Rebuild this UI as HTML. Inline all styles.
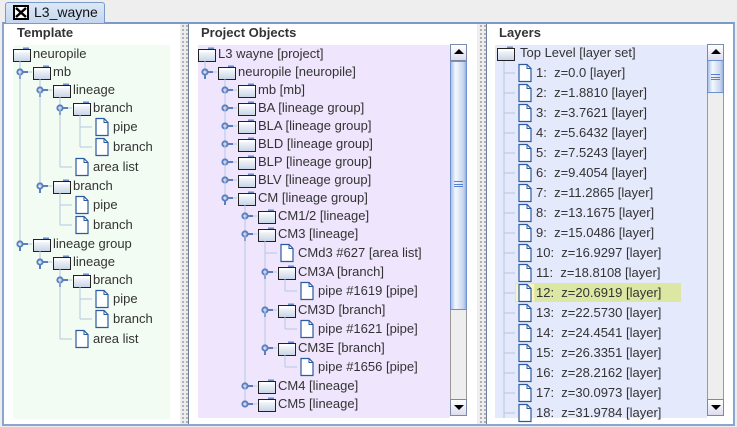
<!DOCTYPE html>
<html><head><meta charset="utf-8">
<style>
*{margin:0;padding:0;box-sizing:border-box}
body{width:737px;height:427px;background:#eeeeee;position:relative;overflow:hidden;font-family:"Liberation Sans",sans-serif;font-size:13px;color:#333}
.a{position:absolute}
.hdr{position:absolute;font-weight:bold;font-size:13px;color:#333}
.t{position:absolute;white-space:nowrap;line-height:16px}
.div{position:absolute;top:24px;height:400px;width:8px;background-color:#eee;background-image:radial-gradient(circle,#888 0.7px,transparent 1px);background-size:4px 4px;background-position:1px 0}
</style></head><body>
<div class="a" style="left:0;top:22px;width:737px;height:405px;background:#eee"></div>
<div class="a" style="left:2px;top:22px;width:733px;height:404px;border:2px solid #8aa6cf;border-top:2px solid #7a9acb"></div>
<div class="a" style="left:5px;top:2px;width:100px;height:21px;background:linear-gradient(#dde8f6,#c4d6ef);border:1px solid #7a9acb;border-bottom:none;border-radius:3px 3px 0 0"></div>
<div class="a" style="left:13px;top:5px;width:16px;height:15px;background:#000"></div>
<svg class="a" style="left:13px;top:5px" width="16" height="15"><rect x="2" y="2" width="12" height="11" fill="#fff"/><path d="M3 3L13 12M13 3L3 12" stroke="#000" stroke-width="2.5"/></svg>
<div class="t" style="left:34px;top:4px;font-size:14px;color:#111">L3_wayne</div>

<div class="a" style="left:4px;top:24px;width:176px;height:400px;background:#fff"></div>
<div class="a" style="left:189px;top:24px;width:288px;height:400px;background:#fff"></div>
<div class="a" style="left:487px;top:24px;width:246px;height:400px;background:#fff"></div>
<div class="div" style="left:180px"></div><div class="a" style="left:188px;top:24px;width:1px;height:400px;background:#6f7f99"></div>
<div class="div" style="left:478px"></div><div class="a" style="left:486px;top:24px;width:1px;height:400px;background:#6f7f99"></div>

<div class="hdr" style="left:17px;top:25px">Template</div>
<div class="hdr" style="left:201px;top:25px">Project Objects</div>
<div class="hdr" style="left:499px;top:25px">Layers</div>

<div class="a" style="left:13px;top:45px;width:157px;height:374px;background:#f2fcf2"></div>
<div class="a" style="left:198px;top:45px;width:252px;height:373px;background:#efe5fc"></div>
<div class="a" style="left:495px;top:45px;width:212px;height:373px;background:#e5e9fc"></div>

<div class="a" style="left:450px;top:44px;width:17px;height:372px;background:#eee;border:1px solid #999"></div>
<div class="a" style="left:450px;top:44px;width:17px;height:17px;background:linear-gradient(#fff,#dde);border:1px solid #7a8aa8"></div>
<svg class="a" style="left:453px;top:48px" width="12" height="8"><path d="M1 6L6 1L11 6Z" fill="#000"/></svg>
<div class="a" style="left:450px;top:399px;width:17px;height:17px;background:linear-gradient(#fff,#dde);border:1px solid #7a8aa8"></div>
<svg class="a" style="left:453px;top:404px" width="12" height="8"><path d="M1 1L6 6L11 1Z" fill="#000"/></svg>
<div class="a" style="left:450px;top:61px;width:17px;height:249px;background:linear-gradient(90deg,#a8c0e8,#f4f8fd 30%,#c8d8ee 80%,#9ab4e0);border:1px solid #6e8fd0"></div>
<div class="a" style="left:454px;top:181px;width:9px;height:6px;border-top:1px solid #5a7fd0;border-bottom:1px solid #5a7fd0"><div style="margin-top:1.5px;height:1px;background:#5a7fd0"></div></div>

<div class="a" style="left:707px;top:44px;width:17px;height:372px;background:#eee;border:1px solid #999"></div>
<div class="a" style="left:707px;top:44px;width:17px;height:17px;background:linear-gradient(#fff,#dde);border:1px solid #7a8aa8"></div>
<svg class="a" style="left:710px;top:48px" width="12" height="8"><path d="M1 6L6 1L11 6Z" fill="#000"/></svg>
<div class="a" style="left:707px;top:399px;width:17px;height:17px;background:linear-gradient(#fff,#dde);border:1px solid #7a8aa8"></div>
<svg class="a" style="left:710px;top:404px" width="12" height="8"><path d="M1 1L6 6L11 1Z" fill="#000"/></svg>
<div class="a" style="left:707px;top:60px;width:17px;height:33px;background:linear-gradient(90deg,#a8c0e8,#f4f8fd 30%,#c8d8ee 80%,#9ab4e0);border:1px solid #6e8fd0"></div>
<div class="a" style="left:711px;top:74px;width:9px;height:6px;border-top:1px solid #5a7fd0;border-bottom:1px solid #5a7fd0"><div style="margin-top:1.5px;height:1px;background:#5a7fd0"></div></div>

<div class="a" style="left:515px;top:283px;width:20px;height:19px;background:#f6f6c8;border:1px solid #e8e8a0"></div>
<div class="a" style="left:535px;top:283px;width:146px;height:19px;background:#dde7a4"></div>

<svg id="lines" class="a" style="left:0;top:0" width="737" height="427"></svg>
<div id="txt"></div>

<script>
var svg=document.getElementById('lines'),tx=document.getElementById('txt'),S='';var H='';
function folder(x,y){return '<g transform="translate('+x+','+(y-7)+')"><path d="M10 0.5h6v2h-6z" fill="#6a8ac8"/><rect x="0.5" y="2.5" width="17" height="12" fill="url(#fg)" stroke="#222"/><path d="M1 4.5h16" stroke="#fff"/></g>';}
function doc(x,y){return '<g transform="translate('+x+','+(y-9)+')"><path d="M1 0.5h8l4 4v13h-12z" fill="#fff" stroke="#2a5aa0" stroke-width="1.2"/><path d="M9 0.5v4h4" fill="none" stroke="#2a5aa0"/></g>';}
function build(base,data,clip){
  var y=45,rows=[];
  data.forEach(function(d){var h=d[1]=='F'?18:20;rows.push({L:d[0],T:d[1],s:d[2],h:d[3],e:d[4],top:y,cy:y+h/2});y+=h;});
  rows.forEach(function(r,i){
    var ix=base+r.L*20;
    if(r.cy>clip)return;
    if(r.L>0){var px=base+(r.L-1)*20+7;
      var j=i-1;while(rows[j].L>r.L)j--;
      var yStart=rows[j].L<r.L?rows[j].cy+7:rows[j].cy;
      S+='<path d="M'+px+' '+yStart+'V'+r.cy+'M'+px+' '+r.cy+'H'+(ix-1)+'" stroke="#b4c8e0" fill="none"/>';
      if(r.h){S+='<circle cx="'+px+'" cy="'+r.cy+'" r="2.6" fill="none" stroke="#5a7fc0" stroke-width="2"/><path d="M'+(px+3)+' '+r.cy+'H'+(px+8)+(r.e?'M'+px+' '+(r.cy+3)+'V'+(r.cy+7):'')+'" stroke="#5a7fc0" stroke-width="2"/>';}
    }
    S+=r.T=='F'?folder(ix,r.cy):doc(ix+2,r.cy);
    H+='<div class="t" style="left:'+(ix+20)+'px;top:'+(r.cy-8)+'px">'+r.s+'</div>';
  });
}
build(13,[[0,'F','neuropile'],[1,'F','mb',1,1],[2,'F','lineage',1,1],[3,'F','branch',1,1],[4,'D','pipe'],[4,'D','branch'],[3,'D','area list'],[2,'F','branch',1,1],[3,'D','pipe'],[3,'D','branch'],[1,'F','lineage group',1,1],[2,'F','lineage',1,1],[3,'F','branch',1,1],[4,'D','pipe'],[4,'D','branch'],[3,'D','area list']],420);
build(198,[[0,'F','L3 wayne [project]'],[1,'F','neuropile [neuropile]',1,1],[2,'F','mb [mb]',1],[2,'F','BA [lineage group]',1],[2,'F','BLA [lineage group]',1],[2,'F','BLD [lineage group]',1],[2,'F','BLP [lineage group]',1],[2,'F','BLV [lineage group]',1],[2,'F','CM [lineage group]',1,1],[3,'F','CM1/2 [lineage]',1],[3,'F','CM3 [lineage]',1,1],[4,'D','CMd3 #627 [area list]'],[4,'F','CM3A [branch]',1,1],[5,'D','pipe #1619 [pipe]'],[4,'F','CM3D [branch]',1,1],[5,'D','pipe #1621 [pipe]'],[4,'F','CM3E [branch]',1,1],[5,'D','pipe #1656 [pipe]'],[3,'F','CM4 [lineage]',1],[3,'F','CM5 [lineage]',1]],418);
var z=['0.0','1.8810','3.7621','5.6432','7.5243','9.4054','11.2865','13.1675','15.0486','16.9297','18.8108','20.6919','22.5730','24.4541','26.3351','28.2162','30.0973','31.9784'];
S+=folder(497,53);H+='<div class="t" style="left:520px;top:45px">Top Level [layer set]</div>';
S+='<path d="M504 61V418" stroke="#b4c8e0"/>';
for(var i=0;i<18;i++){var cy=73+i*20;S+='<path d="M504 '+cy+'H515" stroke="#b4c8e0"/>'+doc(518,cy);
H+='<div class="t" style="left:536px;top:'+(cy-8)+'px">'+(i+1)+':&nbsp; z='+z[i]+' [layer]</div>';}
svg.innerHTML='<defs><linearGradient id="fg" x1="0" y1="0" x2="0" y2="1"><stop offset="0" stop-color="#fff"/><stop offset="1" stop-color="#c7d3e6"/></linearGradient></defs>'+S;
tx.innerHTML=H;
</script>
</body></html>
